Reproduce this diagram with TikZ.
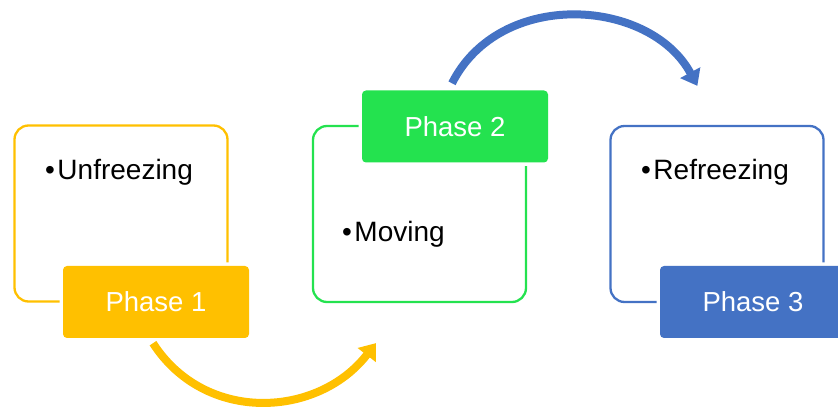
\documentclass[tikz,border=0pt]{standalone}
\usepackage{fontspec}
\setmainfont{Liberation Sans}
\usetikzlibrary{arrows.meta}
\definecolor{phyellow}{HTML}{FFC000}
\definecolor{phgreen}{HTML}{24E24F}
\definecolor{phblue}{HTML}{4472C4}
\newcommand{\itembullet}{•\kern2.5pt}

\begin{document}
\begin{tikzpicture}[x=1pt, y=-1pt,
  outlinebox/.style={draw=#1, line width=2.3pt, rounded corners=14pt,
    minimum width=213pt, minimum height=176pt, inner sep=0pt},
  phasebox/.style={fill=#1, text=white, rounded corners=4pt,
    minimum width=186pt, minimum height=72pt, inner sep=0pt,
    font=\fontsize{27.5}{32}\selectfont,
    preaction={draw=white, line width=7pt}},
  itemtext/.style={anchor=base west, inner sep=0pt,
    font=\fontsize{28}{32}\selectfont},
  flow/.style={draw=#1, line width=8pt,
    -{Triangle[length=15pt, width=22pt]}}]

\useasboundingbox (0,0) rectangle (838,411);
\clip (0,0) rectangle (838,411);

% outlined stage frames
\node[outlinebox=phyellow] (b1) at (121,213.5) {};
\node[outlinebox=phgreen]  (b2) at (419.5,214) {};
\node[outlinebox=phblue]   (b3) at (717,214) {};

% phase labels
\node[phasebox=phyellow] (p1) at (156,302) {Phase 1};
\node[phasebox=phgreen]  (p2) at (455,126.5) {Phase 2};
\node[phasebox=phblue]   (p3) at (753,302) {Phase 3};

% stage contents
\node[itemtext] (t1) at (45,180) {\itembullet Unfreezing};
\node[itemtext] (t2) at (342,242) {\itembullet Moving};
\node[itemtext] (t3) at (641,180) {\itembullet Refreezing};

% curved transitions between phases
\coordinate (e1) at ([shift={(64,40)}]b2.south west);
\coordinate (e2) at ([shift={(88,-39)}]b3.north west);
\draw[flow=phyellow] ([shift={(-3,5)}]p1.south)
  .. controls (205,424) and (318,418) .. (e1);
\draw[flow=phblue] ([shift={(-3,-7)}]p2.north)
  .. controls (500,-12) and (650,-2) .. (e2);
\end{tikzpicture}
\end{document}
